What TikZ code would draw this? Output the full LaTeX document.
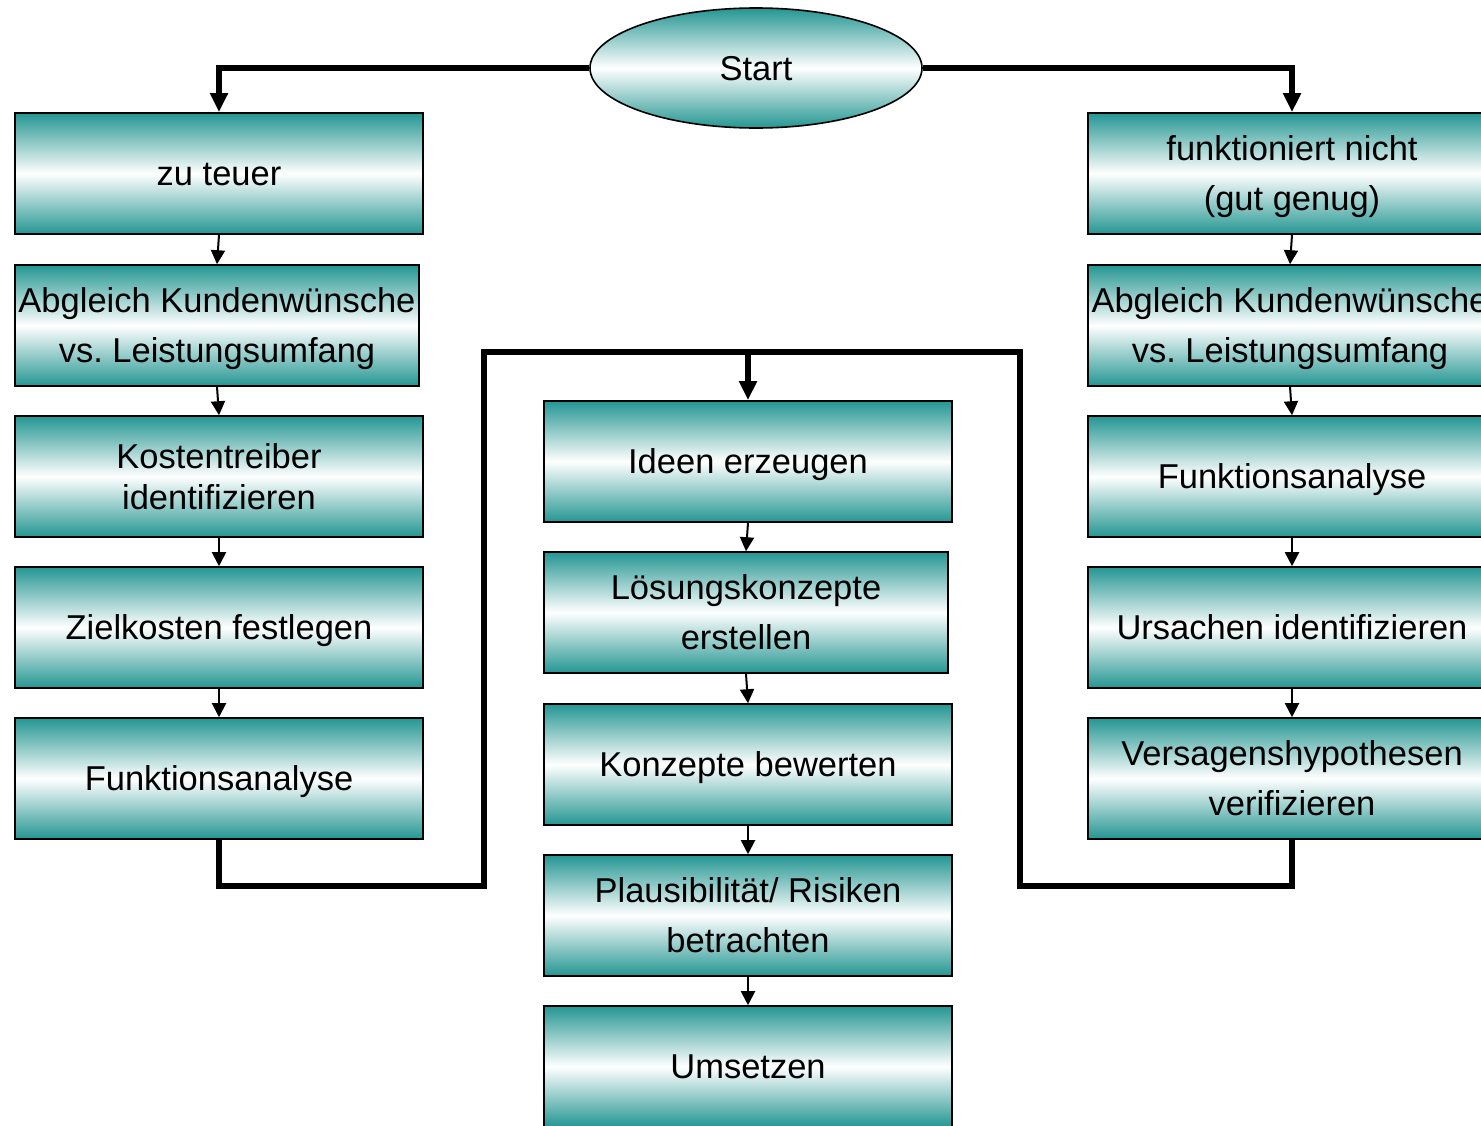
\documentclass[tikz,border=0pt]{standalone}
\usepackage{fontspec}
\setmainfont{Liberation Sans}
\frenchspacing
\usepackage{tikz}
\usetikzlibrary{shapes}
\usetikzlibrary{arrows.meta}
\usetikzlibrary{positioning}
\definecolor{petrol}{RGB}{36,150,146}

\begin{document}
\begin{tikzpicture}[x=0.5pt, y=-0.5pt,
  stepbox/.style={draw, line width=0.8pt, rectangle, inner sep=0pt,
    minimum width=204pt, minimum height=60.5pt, align=center,
    top color=petrol, bottom color=petrol, middle color=white,
    text height=15.6pt, text depth=3.6pt,
    font=\fontsize{17.25}{25}\selectfont},
  twoline/.style={text height=40.6pt},
  startbox/.style={stepbox, ellipse, minimum width=166pt, minimum height=60pt},
  stepline/.style={line width=1pt, -{Triangle[length=7pt, width=7pt]}},
  flowline/.style={line width=2.8pt},
  flowarrow/.style={flowline, -{Triangle[length=9.5pt, width=8.5pt]}}]
  \useasboundingbox (0, 0) rectangle (1481, 1125);
  \clip (0, 0) rectangle (1481, 1125);

  \node[startbox] (start) at (756, 68) {Start};

  \node[stepbox] (l1) at (219, 173.5) {zu teuer};
  \node[stepbox, twoline, minimum width=202pt] (l2) at (217, 325.5) {Abgleich Kundenwünsche\\vs. Leistungsumfang};
  \node[stepbox, font=\fontsize{17.25}{20.5}\selectfont, text height=36.1pt] (l3) at (219, 476.5) {Kostentreiber\\identifizieren};
  \node[stepbox] (l4) at (219, 627.5) {Zielkosten festlegen};
  \node[stepbox] (l5) at (219, 778.5) {Funktionsanalyse};

  \node[stepbox] (c1) at (748, 461.5) {Ideen erzeugen};
  \node[stepbox, twoline, minimum width=202pt] (c2) at (746, 612.5) {Lösungskonzepte\\erstellen};
  \node[stepbox] (c3) at (748, 764.5) {Konzepte bewerten};
  \node[stepbox, twoline] (c4) at (748, 915.5) {Plausibilität/ Risiken\\betrachten};
  \node[stepbox] (c5) at (748, 1066.5) {Umsetzen};

  \node[stepbox, twoline] (r1) at (1292, 173.5) {funktioniert nicht\\(gut genug)};
  \node[stepbox, twoline, minimum width=202pt] (r2) at (1290, 325.5) {Abgleich Kundenwünsche\\vs. Leistungsumfang};
  \node[stepbox] (r3) at (1292, 476.5) {Funktionsanalyse};
  \node[stepbox] (r4) at (1292, 627.5) {Ursachen identifizieren};
  \node[stepbox, twoline] (r5) at (1292, 778.5) {Versagenshypothesen\\verifizieren};

  \foreach \col in {l, c, r} {
    \foreach \i [evaluate=\i as \j using int(\i+1)] in {1, 2, 3, 4} {
      \draw[stepline] (\col\i.south) -- (\col\j.north);
    }
  }

  \draw[flowarrow] (start.west) -| (l1.north);
  \draw[flowarrow] (start.east) -| (r1.north);

  \coordinate (join) at (748, 352);
  \coordinate (lturn) at (484, 886);
  \coordinate (rturn) at (1020, 886);
  \draw[flowline] (l5.south) |- (lturn) |- (join);
  \draw[flowline] (r5.south) |- (rturn) |- (join);
  \draw[flowarrow] (join) -- (c1.north);
\end{tikzpicture}
\end{document}
